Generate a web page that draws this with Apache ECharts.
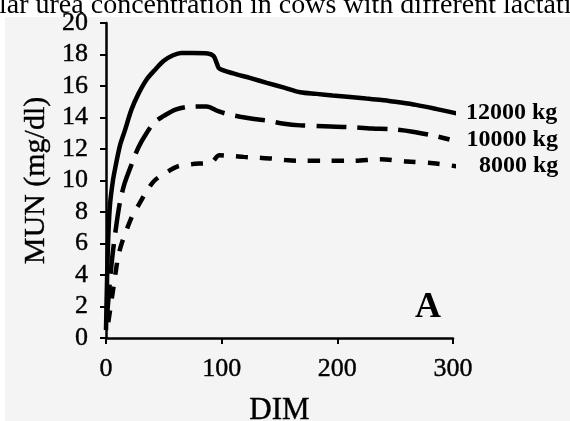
<!DOCTYPE html>
<html>
<head>
<meta charset="utf-8">
<script src="https://cdn.jsdelivr.net/npm/echarts@6/dist/echarts.min.js"></script>
<style>
html,body{margin:0;padding:0;background:#fff;}
#c{width:570px;height:421px;}
</style>
</head>
<body>
<div id="c"></div>
<script>
// Data
var xTicks = [0, 100, 200, 300];
var yTicks = [0, 2, 4, 6, 8, 10, 12, 14, 16, 18, 20];

var dim12000 = [0, 1, 2, 3.5, 6, 8, 12, 16, 22, 28, 35, 42, 50, 58, 65, 75, 88, 93, 96, 98, 110, 125, 139, 154, 168, 182, 196, 211, 225, 240, 255, 268, 285, 304];
var mun12000 = [0.5, 4, 6.5, 8.5, 10, 10.8, 12.2, 13.1, 14.5, 15.5, 16.4, 17.0, 17.6, 17.95, 18.1, 18.1, 18.07, 17.9, 17.4, 17.1, 16.8, 16.5, 16.2, 15.9, 15.6, 15.5, 15.4, 15.3, 15.2, 15.1, 14.95, 14.8, 14.55, 14.25];

var dim10000 = [1, 3.5, 6, 9, 12, 16, 22, 28, 35, 42, 50, 60, 74, 87, 97, 106, 116, 128, 139, 154, 168, 188, 208, 230, 248, 265, 286, 297];
var mun10000 = [1.5, 3.7, 5.5, 7.2, 8.6, 9.8, 11.0, 12.1, 13.0, 13.7, 14.1, 14.5, 14.7, 14.7, 14.4, 14.2, 14.05, 13.9, 13.8, 13.6, 13.5, 13.45, 13.4, 13.3, 13.25, 13.1, 12.8, 12.6];

var dim8000 = [2, 5, 8, 10.6, 14, 18, 23, 29, 35, 42, 52, 62, 75, 86, 92, 98, 110, 119, 131, 143, 155, 168, 190, 214, 237, 260, 283, 303];
var mun8000 = [1.0, 2.5, 4.0, 5.2, 6.1, 6.9, 7.8, 8.55, 9.3, 10.0, 10.5, 10.9, 11.05, 11.1, 11.2, 11.6, 11.55, 11.5, 11.45, 11.4, 11.3, 11.25, 11.25, 11.25, 11.35, 11.2, 11.1, 10.9];

var seriesNames = ['12000 kg', '10000 kg', '8000 kg'];
var titleText = 'lar urea concentration in cows with different lactation';
var panelLetter = 'A';
var xName = 'DIM';
var yName = 'MUN (mg/dl)';

function pairs(xs, ys) { return xs.map(function (x, i) { return [x, ys[i]]; }); }

var serif = 'Liberation Serif';
var txt = {fontFamily: serif, color: '#000', textBorderColor: '#000', textBorderWidth: 0.4};
function ts(extra) { return Object.assign({}, txt, extra); }

var chart = echarts.init(document.getElementById('c'), null, {renderer: 'canvas'});
chart.setOption({
  backgroundColor: '#ffffff',
  animation: false,
  graphic: [
    {type: 'rect', z: -100, silent: true, shape: {x: 5, y: 17, width: 565, height: 404}, style: {fill: '#f4f4f4'}},
    {type: 'text', z: 100, x: -1, y: 20, style: {text: titleText, font: '28px "Liberation Serif"', fill: '#000', verticalAlign: 'bottom', align: 'left'}},
    {type: 'text', z: 100, x: 415, y: 290, style: {text: panelLetter, font: 'bold 36px "Liberation Serif"', fill: '#000', verticalAlign: 'top'}}
  ],
  grid: {left: 106, right: 117, top: 23, bottom: 83, containLabel: false, outerBoundsMode: 'none'},
  xAxis: {
    type: 'value', min: 0, max: 300, interval: 100,
    name: xName, nameLocation: 'middle', nameGap: 57,
    nameTextStyle: ts({fontSize: 31}),
    axisLine: {show: true, lineStyle: {color: '#000', width: 2.5}},
    axisTick: {show: true, length: 6, lineStyle: {color: '#000', width: 2}},
    axisLabel: ts({fontSize: 26, margin: 18}),
    splitLine: {show: false}
  },
  yAxis: {
    type: 'value', min: 0, max: 20, interval: 2,
    name: yName, nameLocation: 'middle', nameGap: 55,
    nameTextStyle: ts({fontSize: 30}),
    axisLine: {show: true, lineStyle: {color: '#000', width: 2.5}},
    axisTick: {show: true, length: 6, lineStyle: {color: '#000', width: 2}},
    axisLabel: ts({fontSize: 26, margin: 18}),
    splitLine: {show: false}
  },
  series: [
    {
      name: seriesNames[0], type: 'line', data: pairs(dim12000, mun12000), smooth: 0.3,
      showSymbol: false, symbol: 'none', clip: false,
      lineStyle: {color: '#000', width: 4.5, type: 'solid'},
      endLabel: {show: true, formatter: seriesNames[0], distance: 10, fontFamily: serif, fontWeight: 'bold', fontSize: 24, color: '#000'}
    },
    {
      name: seriesNames[1], type: 'line', data: pairs(dim10000, mun10000), smooth: 0.3,
      showSymbol: false, symbol: 'none', clip: false,
      lineStyle: {color: '#000', width: 4.5, type: [30, 11]},
      endLabel: {show: true, formatter: seriesNames[1], distance: 17, fontFamily: serif, fontWeight: 'bold', fontSize: 24, color: '#000'}
    },
    {
      name: seriesNames[2], type: 'line', data: pairs(dim8000, mun8000), smooth: 0.3,
      showSymbol: false, symbol: 'none', clip: false,
      lineStyle: {color: '#000', width: 4.5, type: [12, 12]},
      endLabel: {show: true, formatter: seriesNames[2], distance: 23, fontFamily: serif, fontWeight: 'bold', fontSize: 24, color: '#000'}
    }
  ]
});
</script>
</body>
</html>
